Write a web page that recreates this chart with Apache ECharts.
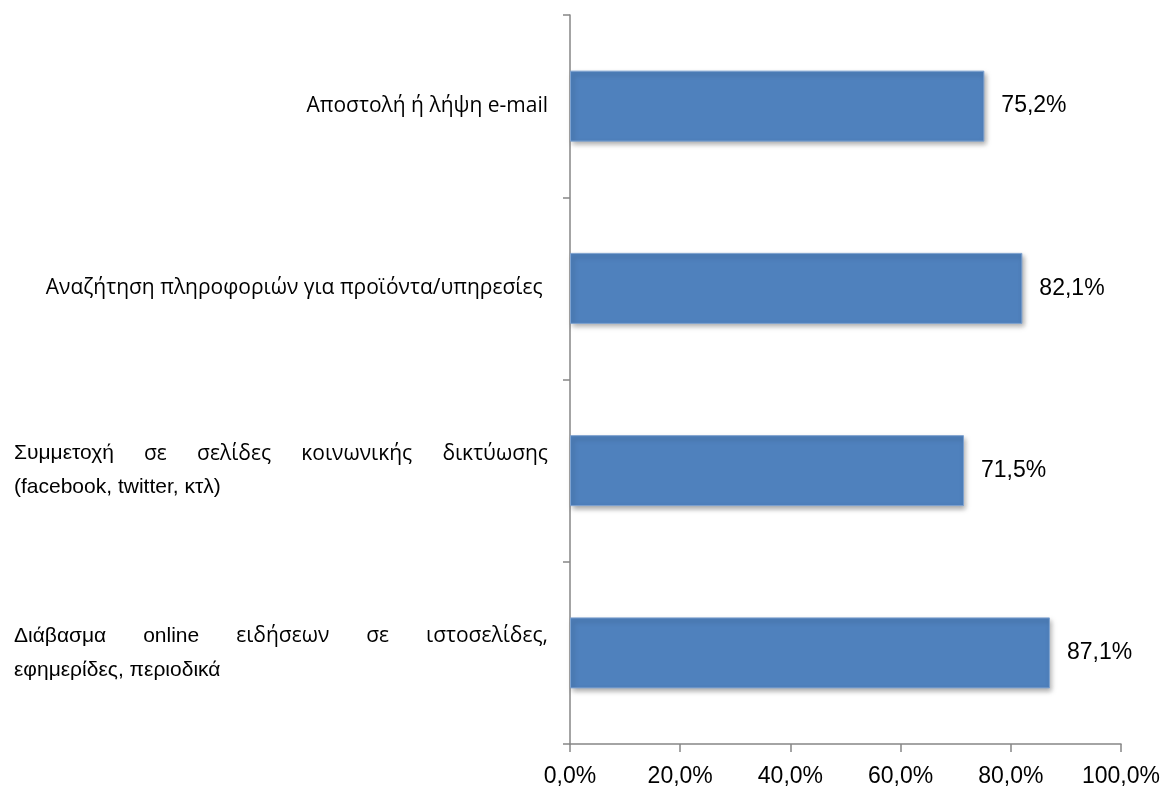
<!DOCTYPE html>
<html>
<head>
<meta charset="utf-8">
<script src="https://cdn.jsdelivr.net/npm/echarts@6/dist/echarts.min.js"></script>
<style>
  html, body { margin: 0; padding: 0; background: #ffffff; }
  #chart { width: 1173px; height: 792px; }
</style>
</head>
<body>
<div id="chart"></div>
<script>
// Internet activities and their share of users (%)
const categories = [
  'Αποστολή ή λήψη e-mail',
  'Αναζήτηση πληροφοριών για προϊόντα/υπηρεσίες ',
  'Συμμετοχή σε σελίδες κοινωνικής δικτύωσης (facebook, twitter, κτλ)',
  'Διάβασμα online ειδήσεων σε ιστοσελίδες, εφημερίδες, περιοδικά'
];
const values = [75.2, 82.1, 71.5, 87.1];

// Wrapped lines of the two long labels; first line is justified, the last is left-aligned
const wrappedLines = {
  2: ['Συμμετοχή σε σελίδες κοινωνικής δικτύωσης', '(facebook, twitter, κτλ)'],
  3: ['Διάβασμα online ειδήσεων σε ιστοσελίδες,', 'εφημερίδες, περιοδικά']
};
// Words of the wrapped labels typeset in the humanist face
const humanistWords = ['σε', 'σελίδες', 'κοινωνικής', 'δικτύωσης', 'ειδήσεων', 'ιστοσελίδες,'];
const tickValues = [0, 20, 40, 60, 80, 100];

const fmtPct = v => v.toFixed(1).replace('.', ',') + '%';

const NUM_FONT = '"Liberation Sans", Arial, sans-serif';
const BODY_FONT = '"Liberation Sans", Arial, sans-serif';
const SHORT_FONT = '"Open Sans", "Noto Sans", sans-serif';
const LABEL_SIZE = 21;
const HUMANIST_SIZE = 21;
const BLOCK_W = 534;
const LINE_H = 34;

// Text measurement for justified label lines
const ctx = document.createElement('canvas').getContext('2d');
function styleOf(word) {
  return humanistWords.includes(word) ? 'o' : 'g';
}
function measure(text, style) {
  ctx.font = style === 'o' ? (HUMANIST_SIZE + 'px ' + SHORT_FONT) : (LABEL_SIZE + 'px ' + BODY_FONT);
  return ctx.measureText(text).width;
}
const rich = {
  g: { fontFamily: BODY_FONT, fontSize: LABEL_SIZE, color: '#000', lineHeight: LINE_H },
  o: { fontFamily: SHORT_FONT, fontSize: HUMANIST_SIZE, color: '#000', lineHeight: LINE_H },
  t: { fontFamily: SHORT_FONT, fontSize: 21, color: '#000', lineHeight: LINE_H }
};
let spacerId = 0;
function spacer(w) {
  const key = 's' + (spacerId++);
  rich[key] = { width: Math.max(0, w), fontSize: LABEL_SIZE, lineHeight: LINE_H };
  return '{' + key + '| }';
}
function buildLabel(lines) {
  return lines.map((line, li) => {
    const words = line.split(' ');
    const widths = words.map(w => measure(w, styleOf(w)));
    const total = widths.reduce((a, b) => a + b, 0);
    const tag = w => '{' + styleOf(w) + '|' + w + '}';
    if (li < lines.length - 1) {
      const gap = (BLOCK_W - total) / (words.length - 1);
      return words.map((w, i) => tag(w) + (i < words.length - 1 ? spacer(gap) : '')).join('');
    }
    const sp = measure(' ', 'g');
    const used = total + sp * (words.length - 1);
    return words.map((w, i) => tag(w) + (i < words.length - 1 ? spacer(sp) : '')).join('') + spacer(BLOCK_W - used);
  }).join('\n');
}
const labelText = categories.map((c, i) => {
  if (wrappedLines[i]) return buildLabel(wrappedLines[i]);
  return '{t|' + c + '}';
});

const chart = echarts.init(document.getElementById('chart'));
chart.setOption({
  animation: false,
  grid: { left: 570, right: 52, top: 15, bottom: 48, containLabel: false },
  xAxis: {
    type: 'value',
    min: 0, max: 100, interval: 20,
    axisLine: { show: true, lineStyle: { color: '#868686', width: 1.5 } },
    axisTick: { show: true, length: 8, lineStyle: { color: '#868686', width: 1.5 } },
    splitLine: { show: false },
    axisLabel: {
      margin: 21,
      fontFamily: NUM_FONT, fontSize: 23, color: '#000',
      formatter: v => tickValues.includes(v) ? fmtPct(v) : ''
    }
  },
  yAxis: {
    type: 'category',
    inverse: true,
    data: categories,
    axisLine: { show: true, lineStyle: { color: '#868686', width: 1.5 } },
    axisTick: { show: true, length: 7, alignWithLabel: false, lineStyle: { color: '#868686', width: 1.5 } },
    axisLabel: {
      margin: 22,
      align: 'right',
      formatter: (v, i) => labelText[i],
      rich: rich
    }
  },
  series: [{
    type: 'bar',
    data: values,
    barWidth: 71,
    itemStyle: {
      color: '#4F81BD',
      borderColor: '#7FA3D0',
      borderWidth: 1,
      shadowColor: 'rgba(0,0,0,0.35)',
      shadowBlur: 5,
      shadowOffsetX: 2,
      shadowOffsetY: 3
    },
    label: {
      show: true,
      position: 'right',
      distance: 17,
      fontFamily: NUM_FONT,
      fontSize: 23,
      color: '#000',
      formatter: p => fmtPct(p.value)
    }
  }]
});
</script>
</body>
</html>
